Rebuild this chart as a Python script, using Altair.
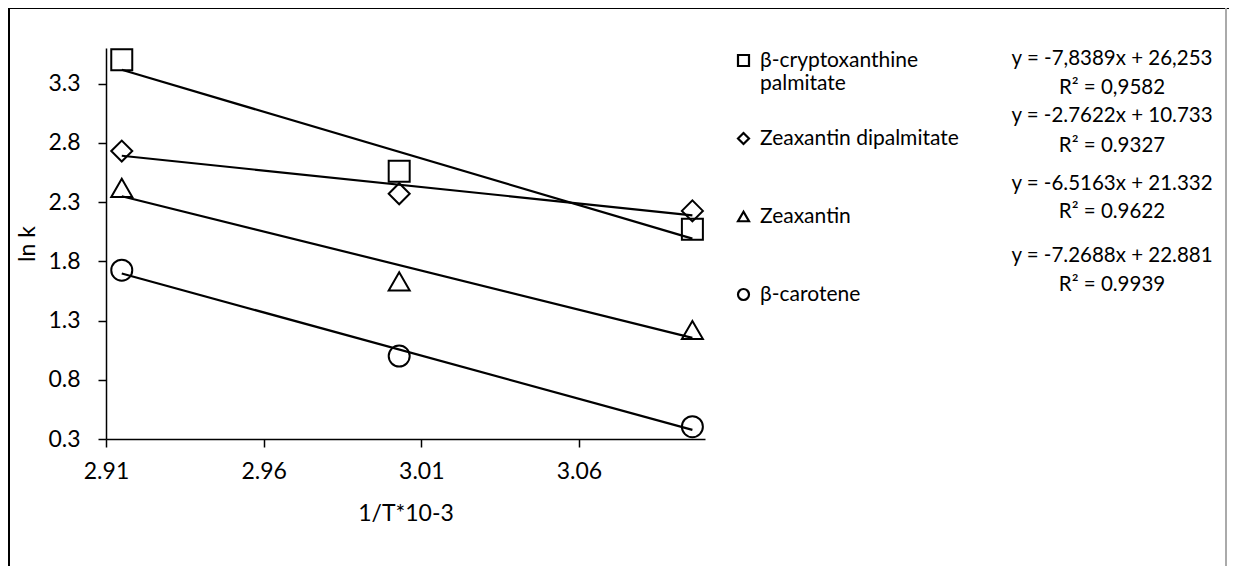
import altair as alt
import pandas as pd

series = ["β-cryptoxanthine palmitate", "Zeaxantin dipalmitate", "Zeaxantin", "β-carotene"]
shapes = ["square", "diamond", "triangle-up", "circle"]
inv_t = [2.915, 3.003, 3.096]
ln_k = [
    [3.50, 2.56, 2.07],
    [2.73, 2.37, 2.225],
    [2.42, 1.63, 1.22],
    [1.725, 1.00, 0.404],
]
equations = [
    ["y = -7,8389x + 26,253", "R² = 0,9582"],
    ["y = -2.7622x + 10.733", "R² = 0.9327"],
    ["y = -6.5163x + 21.332", "R² = 0.9622"],
    ["y = -7.2688x + 22.881", "R² = 0.9939"],
]
x_ticks = [2.91, 2.96, 3.01, 3.06]
y_ticks = [0.3, 0.8, 1.3, 1.8, 2.3, 2.8, 3.3]

FONT = "Lato"
AX_FS = 23
LEG_FS = 21
EQ_FS = 20.5
W, H = 599, 391

rows = []
for s, ys in zip(series, ln_k):
    for x, y in zip(inv_t, ys):
        rows.append({"series": s, "x": x, "y": y})
df = pd.DataFrame(rows)

xenc = alt.X("x:Q", title="1/T*10-3",
             scale=alt.Scale(domain=[2.91, 3.10], nice=False, zero=False),
             axis=alt.Axis(values=x_ticks, format=".2f", labelPadding=13, titlePadding=19,
                           labelFlush=False))
yenc = alt.Y("y:Q", title="ln k",
             scale=alt.Scale(domain=[0.3, 3.6], nice=False, zero=False),
             axis=alt.Axis(values=y_ticks, format=".1f", labelPadding=18, titlePadding=8,
                           labelFlush=False))

base = alt.Chart(df)

trend = base.transform_regression("x", "y", groupby=["series"]).mark_line(
    color="black", strokeWidth=2.2
).encode(x=xenc, y=yenc, detail="series:N")

points = base.mark_point(filled=False, color="black", strokeWidth=2, size=441, opacity=1).encode(
    x=xenc, y=yenc,
    shape=alt.Shape("series:N", sort=series,
                    scale=alt.Scale(domain=series, range=shapes),
                    legend=alt.Legend(
                        title=None, orient="none", legendX=627, legendY=2,
                        labelFont=FONT, labelFontSize=LEG_FS, labelFontWeight="normal",
                        labelColor="black",
                        symbolSize=121, symbolStrokeWidth=2.2, symbolStrokeColor="black",
                        symbolFillColor="transparent",
                        labelOffset=6, rowPadding=33, gridAlign="all", padding=0,
                        labelLimit=400,
                        labelExpr="datum.label == 'β-cryptoxanthine palmitate' ? ['β-cryptoxanthine', 'palmitate'] : datum.label",
                    )),
)

# frame
frame_left = alt.Chart(df).mark_rule(color="black", strokeWidth=2).encode(
    x=alt.value(-97), y=alt.value(-40), y2=alt.value(H + 200))
frame_top = alt.Chart(df).mark_rule(color="black", strokeWidth=1.5).encode(
    x=alt.value(-98), x2=alt.value(W + 530), y=alt.value(-40))
frame_right = alt.Chart(df).mark_rule(color="#aaaaaa", strokeWidth=1.5).encode(
    x=alt.value(W + 521), y=alt.value(-40), y2=alt.value(H + 200))

eq_layers = []
baselines = [[17, 46], [74.3, 103.7], [142, 170], [213.7, 242.7]]
for eq, bl in zip(equations, baselines):
    for txt, b in zip(eq, bl):
        eq_layers.append(
            alt.Chart(pd.DataFrame({"t": [txt]})).mark_text(
                font=FONT, fontSize=EQ_FS, color="black", align="center", baseline="alphabetic"
            ).encode(text="t:N", x=alt.value(1006), y=alt.value(b))
        )

chart = alt.layer(frame_left, frame_top, frame_right, trend, points, *eq_layers).properties(
    width=W, height=H,
    autosize=alt.AutoSizeParams(type="none"),
    padding={"left": 98, "top": 40, "right": 1221 - 98 - W, "bottom": 558 - 40 - H},
).configure_view(stroke=None).configure_axis(
    grid=False, domainColor="black", domainWidth=1.5, tickColor="black", tickWidth=1.5,
    tickSize=8, labelFont=FONT, labelFontSize=AX_FS, labelColor="black",
    titleFont=FONT, titleFontSize=AX_FS, titleFontWeight="normal", titleColor="black",
)

chart.save("out.html", embed_options={"renderer": "svg", "actions": False})
